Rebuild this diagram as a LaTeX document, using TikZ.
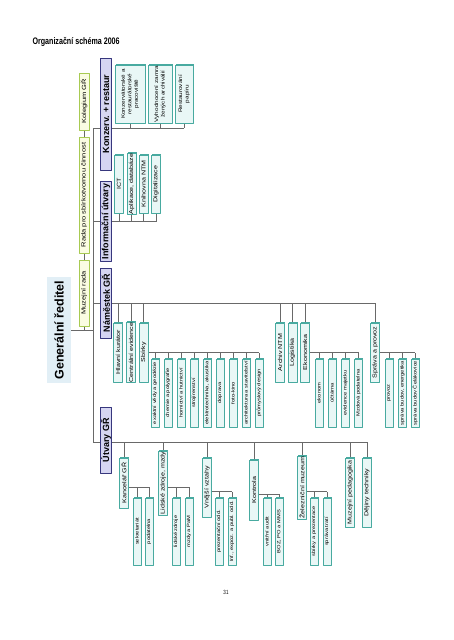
\documentclass[tikz,border=0pt]{standalone}
\usepackage{fontspec}
\setmainfont{Liberation Sans}
\newfontfamily\chartfont[FakeStretch=1.25]{Liberation Sans}
\newfontfamily\titlefont[FakeStretch=0.75]{Liberation Sans}
\usetikzlibrary{shadows,backgrounds}
\definecolor{unitfill}{RGB}{233,247,246}
\definecolor{unitline}{RGB}{72,170,160}
\definecolor{headfill}{RGB}{214,214,242}
\definecolor{headline}{RGB}{55,55,125}
\definecolor{councilfill}{RGB}{250,252,226}
\definecolor{councilline}{RGB}{168,202,82}
\definecolor{dirfill}{RGB}{226,239,246}
\definecolor{wirecol}{RGB}{105,105,105}

\begin{document}
\begin{tikzpicture}[x=1pt,y=-1pt,line cap=round,line join=round,
  box/.style={rectangle,rotate=90,inner sep=0.5pt,align=center},
  unit/.style={box,draw=unitline,fill=unitfill,line width=0.6pt,minimum width=#1pt,minimum height=9pt,
    font=\chartfont\fontsize{5.7}{6.6}\selectfont,
    drop shadow={shadow xshift=0.9pt,shadow yshift=0.9pt,fill=unitline,opacity=1}},
  unit/.default=59,
  leaf/.style={unit=#1,minimum height=8pt,font=\chartfont\fontsize{4.6}{5}\selectfont},
  leaf/.default=67,
  head/.style={box,draw=headline,fill=headfill,line width=0.8pt,minimum width=#1pt,minimum height=11pt,
    font=\bfseries\fontsize{9}{10}\selectfont},
  council/.style={box,draw=councilline,fill=councilfill,line width=0.7pt,minimum width=#1pt,minimum height=10pt,
    font=\chartfont\fontsize{6}{7}\selectfont},
  director/.style={box,fill=dirfill,minimum width=106pt,minimum height=24pt,font=\bfseries\fontsize{12.5}{14}\selectfont},
  wire/.style={draw=wirecol,line width=1pt}]
\useasboundingbox (0,0) rectangle (453,640);

\node[anchor=west,font=\titlefont\bfseries\fontsize{9.5}{11}\selectfont] (title) at (29,42) {Organizační schéma 2006};
\node[font=\titlefont\fontsize{6}{7}\selectfont] (pagenum) at (226,592) {31};

% vedeni
\node[director] (gr) at (59,330) {Generální ředitel};
\node[council=57] (kol) at (84,101.5) {Kolegium GŘ};
\node[council=116] (rada) at (84,195) {Rada pro sbírkotvornou činnost};
\node[council=66] (mrada) at (84,293) {Muzejní rada};
\coordinate (sptop) at (93,128);
\coordinate (spbot) at (93,442);

% hlavni utvary
\node[head=112] (kon) at (106,114) {Konzerv. + restaur};
\node[head=80] (inf) at (106,221.5) {Informační útvary};
\node[head=70] (nam) at (106,303) {Náměstek GŘ};
\node[head=66] (utv) at (106,440) {Útvary GŘ};

% konzervace
\node[unit=58,minimum height=30pt,font=\chartfont\fontsize{5.1}{6.4}\selectfont] (kr1) at (130,94) {Konzervátorské a\\restaurátorské\\pracoviště};
\node[unit=58,minimum height=24pt,font=\chartfont\fontsize{5.1}{6.4}\selectfont] (kr2) at (160,94) {Vyhodnocení zamra\\žených archiválií};
\node[unit=58,minimum height=18pt,font=\chartfont\fontsize{5.1}{6.4}\selectfont] (kr3) at (184,94) {Restaurování\\papíru};

% informacni utvary
\node[unit=58] (ia1) at (119,184) {ICT};
\node[unit=58] (ia2) at (131.5,184) {Aplikace, databáze};
\node[unit=58] (ia3) at (143.5,184) {Knihovna NTM};
\node[unit=58] (ia4) at (156,184) {Digitalizace};

% namestek
\node[unit] (hk) at (118,352.5) {Hlavní kurátor};
\node[unit] (ce) at (131,352.5) {Centrální evidence};
\node[unit] (sb) at (143.5,352.5) {Sbírky};
\node[unit] (an) at (280,352.5) {Archiv NTM};
\node[unit] (lg) at (292.5,352.5) {Logistika};
\node[unit] (ek) at (305,352.5) {Ekonomika};
\node[unit] (sp) at (375,352.5) {Správa a provoz};

\node[leaf=68] (sb1) at (155,393) {exaktní vědy a geodézie};
\node[leaf=68] (sb2) at (168,393) {chemie a polygrafie};
\node[leaf=68] (sb3) at (181,393) {hornictví a hutnictví};
\node[leaf=68] (sb4) at (194,393) {strojírenství};
\node[leaf=68] (sb5) at (207,393) {elektrotechnika, akustika};
\node[leaf=68] (sb6) at (220,393) {doprava};
\node[leaf=68] (sb7) at (233,393) {foto-kino};
\node[leaf=68] (sb8) at (246,393) {architektura a stavitelství};
\node[leaf=68] (sb9) at (259,393) {průmyslový design};

\node[leaf=68] (ek1) at (319,393) {ekonom};
\node[leaf=68] (ek2) at (332,393) {účtárna};
\node[leaf=68] (ek3) at (345.5,393) {evidence majetku};
\node[leaf=68] (ek4) at (358.5,393) {Mzdová podatelna};

\node[leaf=68] (sp1) at (389,393) {provoz};
\node[leaf=68] (sp2) at (402.5,393) {správa budov, energetika};
\node[leaf=68] (sp3) at (415,393) {správa budov Čelákovice};

% utvary GR
\node[unit=50] (kan) at (124,483) {Kancelář GŘ};
\node[unit=50] (lz) at (163,483) {Lidské zdroje, mzdy};
\node[unit=59] (vv) at (207,487.5) {Vnější vztahy};
\node[unit=60] (kt) at (254,490) {Kontrola};
\node[unit=59] (zm) at (302,487.5) {Železniční muzeum};
\node[unit=69] (mp) at (350,492.5) {Muzejní pedagogika};
\node[unit=69] (dt) at (367,492.5) {Dějiny techniky};

\node[leaf] (kan1) at (137,531.5) {sekretariát};
\node[leaf] (kan2) at (149,531.5) {podatelna};
\node[leaf] (lz1) at (176,531.5) {lidské zdroje};
\node[leaf] (lz2) at (189,531.5) {mzdy a PaM};
\node[leaf] (vv1) at (219,531.5) {prezentační odd.};
\node[leaf] (vv2) at (232,531.5) {Inf., expoz. a publ. odd.};
\node[leaf] (kt1) at (267,531.5) {vnitřní audit};
\node[leaf] (kt2) at (279,531.5) {BOZ, PO a MMS};
\node[leaf] (zm1) at (314,531.5) {sbírky a prezentace};
\node[leaf] (zm2) at (327,531.5) {správa tratí};

\begin{scope}[on background layer]
\fill[white] (0,0) rectangle (453,640);
% pater a rady
\draw[wire] (sptop) -- (spbot);
\draw[wire] (gr.south) -- (gr.south -| sptop);
\draw[wire] (mrada.west) -- (mrada.west |- gr.south);
\draw[wire] (rada.west) -- (mrada.east);
\draw[wire] (kol.west) -- (rada.east);
% konzervace
\draw[wire] (sptop) -- (sptop -| kr3);
\foreach \n in {kr1,kr2,kr3} \draw[wire] (\n.west) -- (\n.west |- sptop);
% informacni
\draw[wire] (sptop |- inf) -- (inf -| ia4);
\foreach \n in {ia1,ia2,ia3,ia4} \draw[wire] (\n.west) -- (\n.west |- inf);
% namestek
\draw[wire] (sptop |- nam) -- (nam -| sp);
\foreach \n in {hk,ce,sb,an,lg,ek,sp} \draw[wire] (\n.east) -- (\n.east |- nam);
\draw[wire] (sb.south) -- (sb.south -| sb9);
\foreach \n in {sb1,sb2,sb3,sb4,sb5,sb6,sb7,sb8,sb9} \draw[wire] (\n.east) -- (\n.east |- sb.south);
\draw[wire] (ek.south) -- (ek.south -| ek4);
\foreach \n in {ek1,ek2,ek3,ek4} \draw[wire] (\n.east) -- (\n.east |- ek.south);
\draw[wire] (sp.south) -- (sp.south -| sp3);
\foreach \n in {sp1,sp2,sp3} \draw[wire] (\n.east) -- (\n.east |- sp.south);
% utvary GR
\draw[wire] (spbot) -- (spbot -| dt);
\foreach \n in {kan,lz,vv,kt,zm,mp,dt} \draw[wire] (\n.east) -- (\n.east |- spbot);
\foreach \p/\a/\b in {kan/kan1/kan2,lz/lz1/lz2,vv/vv1/vv2,kt/kt1/kt2,zm/zm1/zm2}{
  \coordinate (\p-bus) at ([yshift=-4pt]\p.south);
  \draw[wire] (\p-bus) -- (\p-bus -| \b);
  \draw[wire] (\a.east) -- (\a.east |- \p-bus);
  \draw[wire] (\b.east) -- (\b.east |- \p-bus);
}
\end{scope}
\end{tikzpicture}
\end{document}
